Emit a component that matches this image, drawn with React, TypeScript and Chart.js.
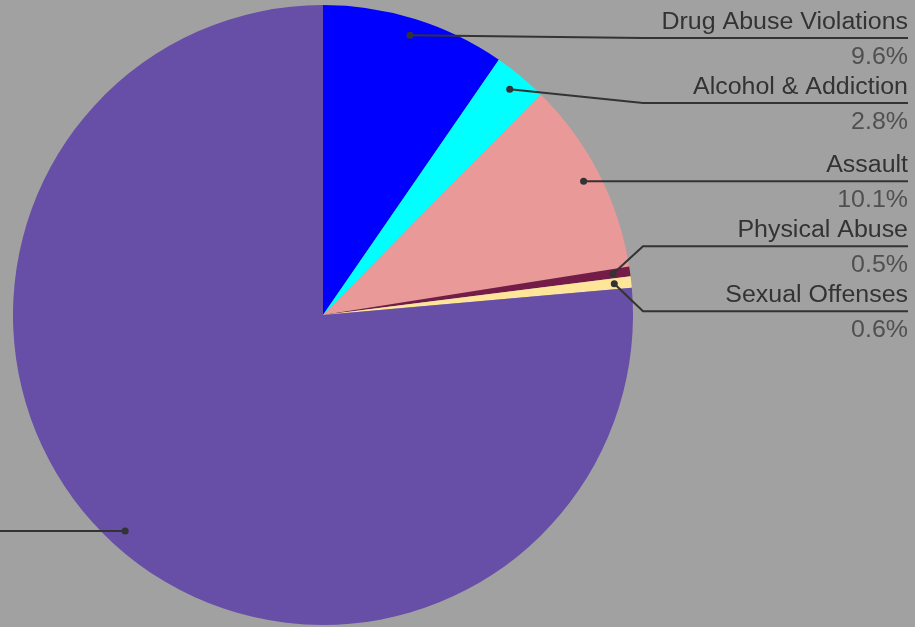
import React, { useEffect, useRef } from "react";
import { Chart, registerables } from "chart.js";

Chart.register(...registerables);

const categories = [
  "Drug Abuse Violations",
  "Alcohol & Addiction",
  "Assault",
  "Physical Abuse",
  "Sexual Offenses",
  "Other",
];
const values = [9.6, 2.8, 10.1, 0.5, 0.6, 76.4];
const percentLabels = ["9.6%", "2.8%", "10.1%", "0.5%", "0.6%", "76.4%"];
const colors = ["#0000ff", "#00ffff", "#ea9999", "#741b47", "#ffe599", "#674ea7"];

const BG = "#a1a1a1";
const FONT = '23px "Liberation Sans", Arial, sans-serif';
const TEXT_STRETCH = 1.085;

type Item = { idx: number; dotX: number; dotY: number; desired: number; pos: number };

function spread(items: Item[], gap: number, minY: number) {
  items.sort((a, b) => a.desired - b.desired);
  let groups = items.map((it) => ({ members: [it], center: it.desired }));
  let merged = true;
  while (merged) {
    merged = false;
    for (let i = 0; i < groups.length - 1; i++) {
      const a = groups[i];
      const b = groups[i + 1];
      const aBottom = a.center + ((a.members.length - 1) * gap) / 2;
      const bTop = b.center - ((b.members.length - 1) * gap) / 2;
      if (bTop - aBottom < gap) {
        const members = a.members.concat(b.members);
        const center = members.reduce((s, m) => s + m.desired, 0) / members.length;
        groups.splice(i, 2, { members, center });
        merged = true;
        break;
      }
    }
  }
  for (const g of groups) {
    const n = g.members.length;
    g.members.forEach((m, k) => {
      m.pos = g.center + (k - (n - 1) / 2) * gap;
    });
  }
  for (let i = 0; i < items.length; i++) {
    const lo = i === 0 ? minY : items[i - 1].pos + gap;
    if (items[i].pos < lo) items[i].pos = lo;
  }
}

function drawText(ctx: CanvasRenderingContext2D, text: string, x: number, y: number, color: string) {
  ctx.save();
  ctx.translate(x, y);
  ctx.scale(TEXT_STRETCH, 1);
  ctx.fillStyle = color;
  ctx.fillText(text, 0, 0);
  ctx.restore();
}

const calloutPlugin = {
  id: "callouts",
  afterDatasetsDraw(chart: any) {
    const ctx = chart.ctx as CanvasRenderingContext2D;
    const meta = chart.getDatasetMeta(0);
    const W = chart.width;
    const right: Item[] = [];
    const left: Item[] = [];
    let cx = 0;
    let R = 0;
    meta.data.forEach((arc: any, i: number) => {
      const p = arc.getProps(["x", "y", "startAngle", "endAngle", "outerRadius"], true);
      cx = p.x;
      R = p.outerRadius;
      const mid = (p.startAngle + p.endAngle) / 2;
      const dx = p.x + Math.cos(mid) * R * 0.945;
      const dy = p.y + Math.sin(mid) * R * 0.945;
      const it: Item = { idx: i, dotX: dx, dotY: dy, desired: dy, pos: dy };
      if (Math.cos(mid) >= 0) right.push(it);
      else left.push(it);
    });
    spread(right, 65, 38);
    spread(left, 65, 38);

    ctx.save();
    ctx.strokeStyle = "#333333";
    ctx.lineWidth = 2;
    const drawSide = (items: Item[], isRight: boolean) => {
      const kinkX = isRight ? cx + R + 10 : cx - R - 10;
      const endX = isRight ? W - 7 : kinkX - 260;
      for (const it of items) {
        ctx.beginPath();
        ctx.moveTo(it.dotX, it.dotY);
        ctx.lineTo(kinkX, it.pos);
        ctx.lineTo(endX, it.pos);
        ctx.stroke();
        ctx.beginPath();
        ctx.fillStyle = "#333333";
        ctx.arc(it.dotX, it.dotY, 3.5, 0, Math.PI * 2);
        ctx.fill();
        ctx.font = FONT;
        ctx.textAlign = isRight ? "right" : "left";
        ctx.textBaseline = "alphabetic";
        drawText(ctx, categories[it.idx], endX, it.pos - 9, "#333333");
        drawText(ctx, percentLabels[it.idx], endX, it.pos + 26, "#505050");
      }
    };
    drawSide(right, true);
    drawSide(left, false);
    ctx.restore();
  },
};

const bgPlugin = {
  id: "bg",
  beforeDraw(chart: any) {
    const ctx = chart.ctx as CanvasRenderingContext2D;
    ctx.save();
    ctx.fillStyle = BG;
    ctx.fillRect(0, 0, chart.width, chart.height);
    ctx.restore();
  },
};

export default function App() {
  const ref = useRef<HTMLCanvasElement | null>(null);
  useEffect(() => {
    document.body.style.margin = "0";
    document.body.style.background = BG;
    if (!ref.current) return;
    const chart = new Chart(ref.current, {
      type: "pie",
      data: {
        labels: categories,
        datasets: [
          {
            data: values,
            backgroundColor: colors,
            borderWidth: 0,
          },
        ],
      },
      options: {
        responsive: false,
        animation: false,
        layout: { padding: { left: 13, top: 5, right: 282, bottom: 2 } },
        plugins: {
          legend: { display: false },
          tooltip: { enabled: false },
        },
      },
      plugins: [bgPlugin, calloutPlugin],
    });
    return () => chart.destroy();
  }, []);
  return (
    <div style={{ position: "fixed", left: 0, top: 0, width: 915, height: 627 }}>
      <canvas ref={ref} width={915} height={627} style={{ width: 915, height: 627, display: "block" }} />
    </div>
  );
}
